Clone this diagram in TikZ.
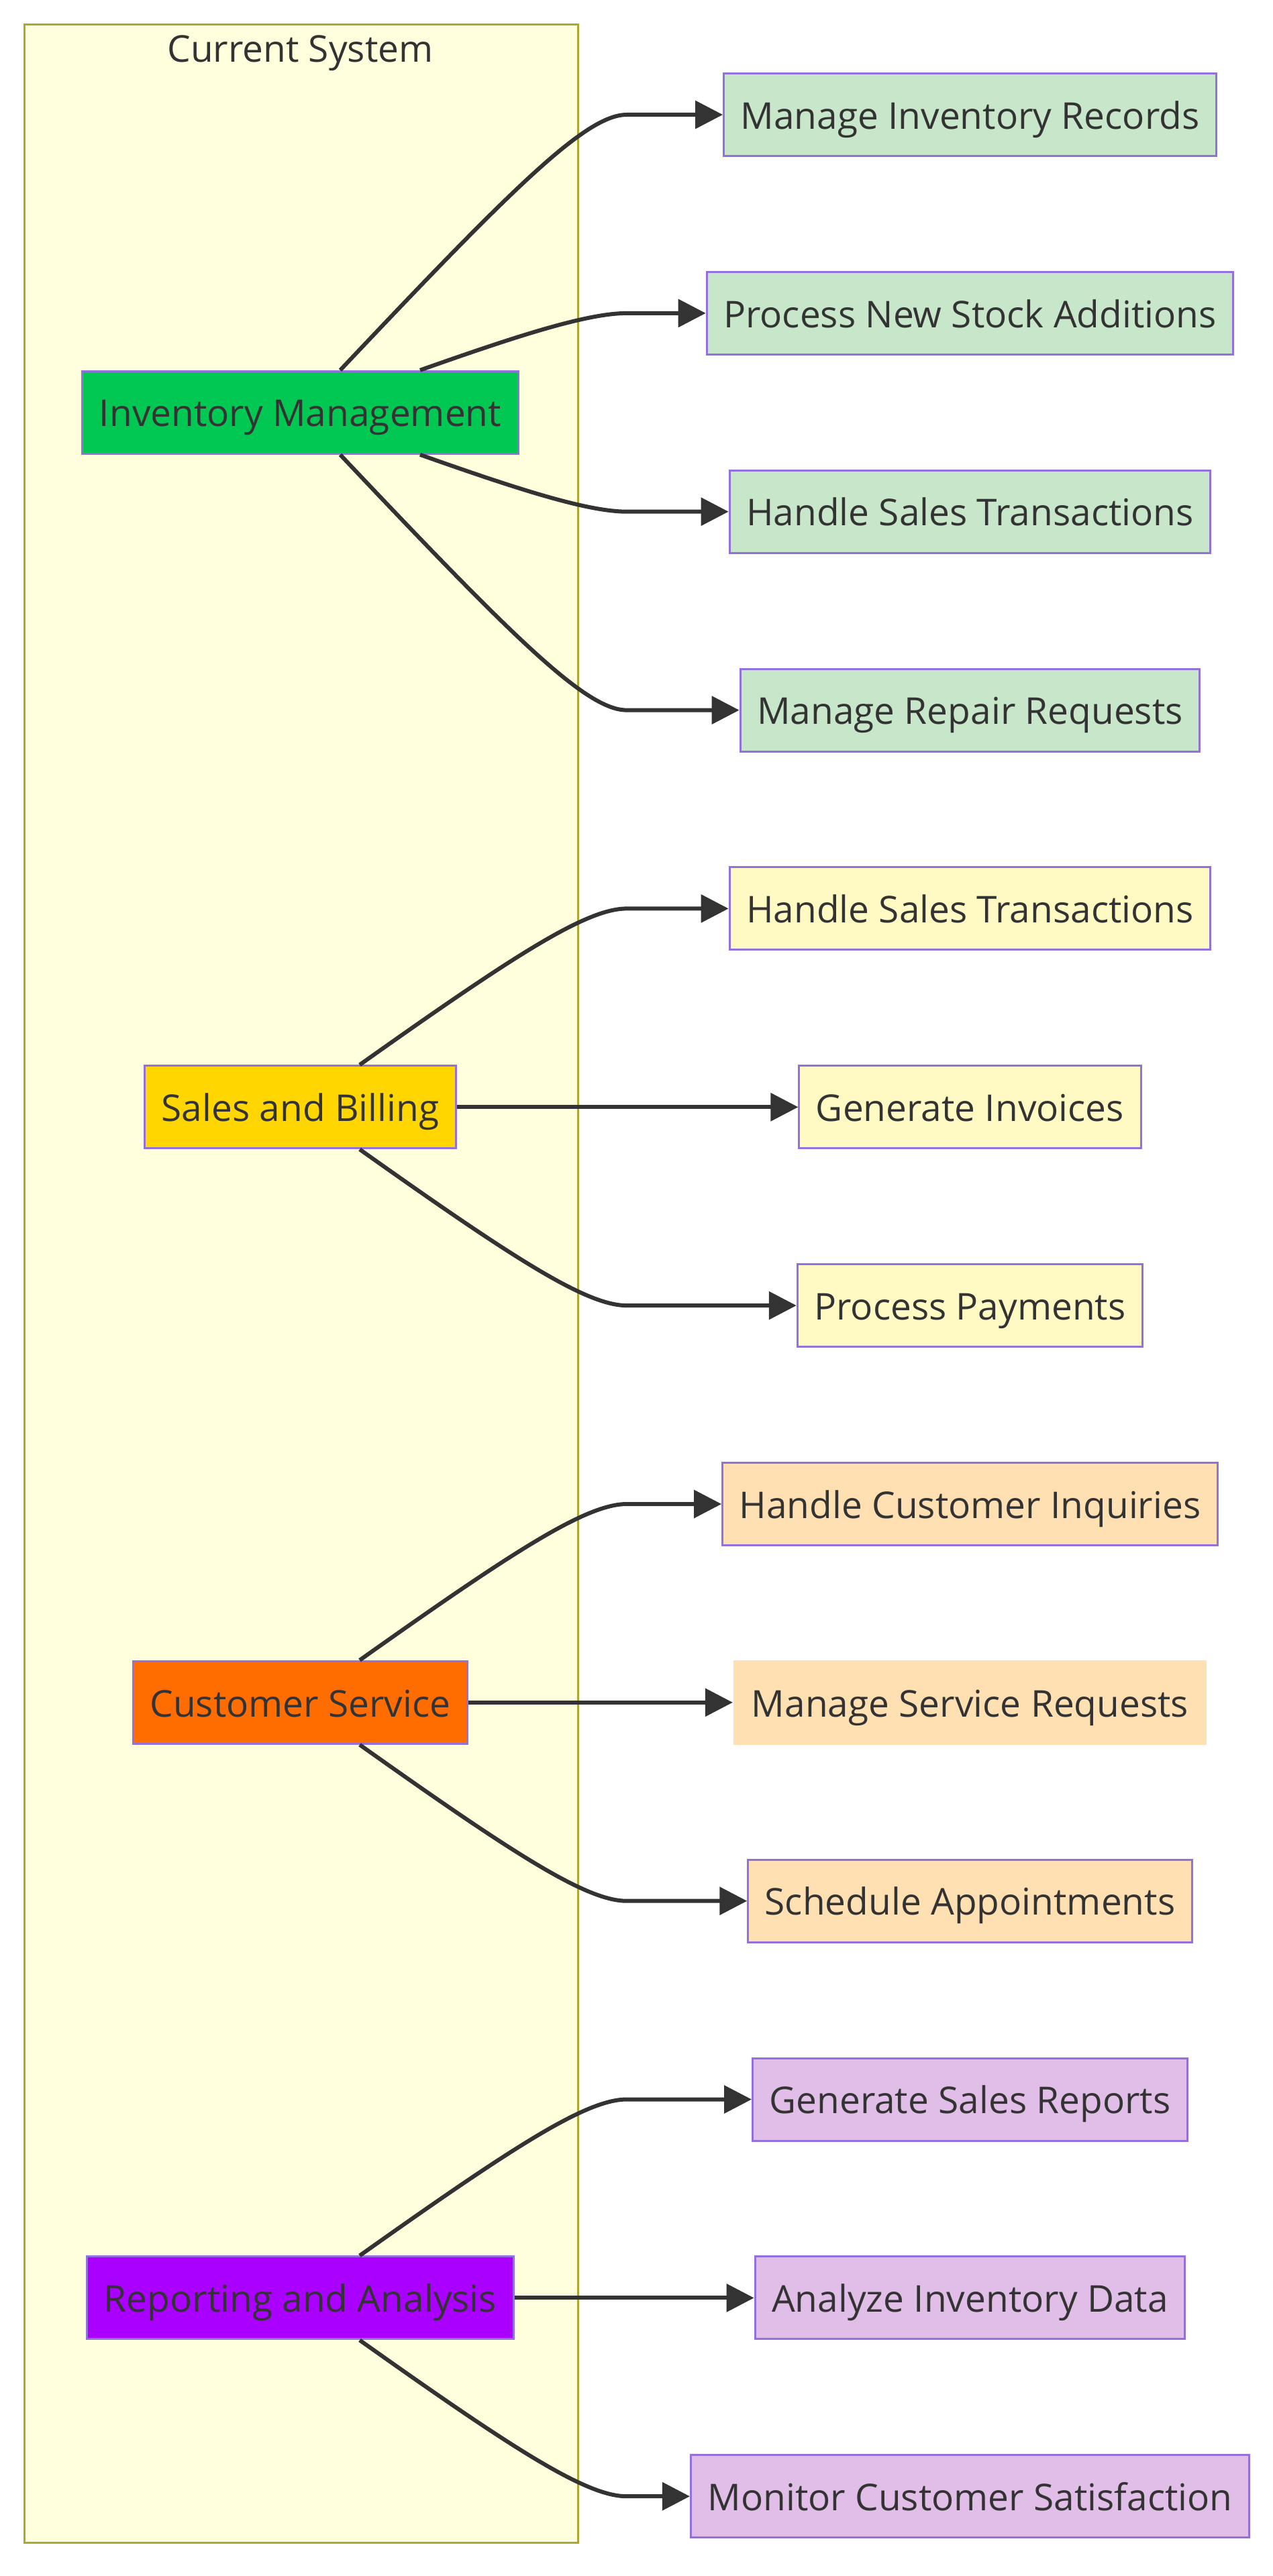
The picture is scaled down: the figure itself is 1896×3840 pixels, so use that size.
\documentclass[tikz,border=0pt]{standalone}
\usepackage{fontspec}
\setmainfont{Open Sans}
\usetikzlibrary{arrows.meta}
\definecolor{txt}{HTML}{333333}
\definecolor{nstroke}{HTML}{9370DB}
\definecolor{clfill}{HTML}{FFFFDE}
\definecolor{clstroke}{HTML}{AAAA33}
\definecolor{srcgreen}{HTML}{00C853}
\definecolor{srcyellow}{HTML}{FFD600}
\definecolor{srcorange}{HTML}{FF6D00}
\definecolor{srcpurple}{HTML}{AA00FF}
\definecolor{tgtgreen}{HTML}{C8E6C9}
\definecolor{tgtyellow}{HTML}{FFF9C4}
\definecolor{tgtorange}{HTML}{FFE0B2}
\definecolor{tgtpurple}{HTML}{E1BEE7}
\begin{document}
\begin{tikzpicture}[x=1pt,y=-1pt,
  font=\fontsize{55}{66}\selectfont,
  box/.style={draw=nstroke, line width=3pt, text=txt, inner xsep=25pt, inner ysep=0pt,
    minimum height=123pt, text height=52.25pt, text depth=9.9pt},
  clusterbox/.style={draw=clstroke, fill=clfill, line width=3pt, inner sep=0pt},
  edge/.style={draw=txt, line width=6pt, -{Triangle[length=41pt,width=41pt]}}
]
\useasboundingbox (0,0) rectangle (1896,3840);
\fill[white] (0,0) rectangle (1896,3840);

% cluster
\node[clusterbox, anchor=north west, minimum width=825pt, minimum height=3753.7pt] (cluster) at (35,35) {};
\node[text=txt, anchor=base] (title) at (447.5,93) {Current System};

% source nodes
\node[box, fill=srcgreen]  (inv) at (447.5,614.8)  {Inventory Management};
\node[box, fill=srcyellow] (sb)  at (447.5,1650.3) {Sales and Billing};
\node[box, fill=srcorange] (cs)  at (447.5,2537.8) {Customer Service};
\node[box, fill=srcpurple] (ra)  at (447.5,3425.4) {Reporting and Analysis};

% target nodes
\node[box, fill=tgtgreen] (mir)  at (1445.5,171)    {Manage Inventory Records};
\node[box, fill=tgtgreen] (pns)  at (1445.5,466.9)  {Process New Stock Additions};
\node[box, fill=tgtgreen] (hst)  at (1445.5,762.7)  {Handle Sales Transactions};
\node[box, fill=tgtgreen] (mrr)  at (1445.5,1058.6) {Manage Repair Requests};

\node[box, fill=tgtyellow] (hst2) at (1445.5,1354.4) {Handle Sales Transactions};
\node[box, fill=tgtyellow] (gi)   at (1445.5,1650.3) {Generate Invoices};
\node[box, fill=tgtyellow] (pp)   at (1445.5,1946.1) {Process Payments};

\node[box, fill=tgtorange] (hci)  at (1445.5,2242)   {Handle Customer Inquiries};
\node[box, fill=tgtorange, draw=none, minimum height=126pt, inner xsep=26.5pt] (msr) at (1445.5,2537.8) {Manage Service Requests};
\node[box, fill=tgtorange] (sa)   at (1445.5,2833.7) {Schedule Appointments};

\node[box, fill=tgtpurple] (gsr)  at (1445.5,3129.5) {Generate Sales Reports};
\node[box, fill=tgtpurple] (aid)  at (1445.5,3425.4) {Analyze Inventory Data};
\node[box, fill=tgtpurple] (mcs)  at (1445.5,3721.2) {Monitor Customer Satisfaction};

% edges: Inventory Management
\draw[edge] ([xshift=59.5pt]inv.north) .. controls (767,276.5) and (874,171) .. (934,171) -- (mir.west);
\draw[edge] ([xshift=178.5pt]inv.north) .. controls (767,502) and (874,466.9) .. (934,466.9) -- (pns.west);
\draw[edge] ([xshift=178.5pt]inv.south) .. controls (767,727.6) and (874,762.7) .. (934,762.7) -- (hst.west);
\draw[edge] ([xshift=59.5pt]inv.south) .. controls (767,953) and (874,1058.6) .. (934,1058.6) -- (mrr.west);

% edges: Sales and Billing
\draw[edge] ([xshift=88.5pt]sb.north) .. controls (767,1423.3) and (874,1354.4) .. (934,1354.4) -- (hst2.west);
\draw[edge] (sb.east) -- (gi.west);
\draw[edge] ([xshift=88.5pt]sb.south) .. controls (767,1877.3) and (874,1946.1) .. (934,1946.1) -- (pp.west);

% edges: Customer Service
\draw[edge] ([xshift=88.5pt]cs.north) .. controls (767,2310.8) and (874,2242) .. (934,2242) -- (hci.west);
\draw[edge] (cs.east) -- (msr.west);
\draw[edge] ([xshift=88.5pt]cs.south) .. controls (767,2764.8) and (874,2833.7) .. (934,2833.7) -- (sa.west);

% edges: Reporting and Analysis
\draw[edge] ([xshift=88.5pt]ra.north) .. controls (767,3198.4) and (874,3129.5) .. (934,3129.5) -- (gsr.west);
\draw[edge] (ra.east) -- (aid.west);
\draw[edge] ([xshift=88.5pt]ra.south) .. controls (767,3652.4) and (874,3721.2) .. (934,3721.2) -- (mcs.west);
\end{tikzpicture}
\end{document}
